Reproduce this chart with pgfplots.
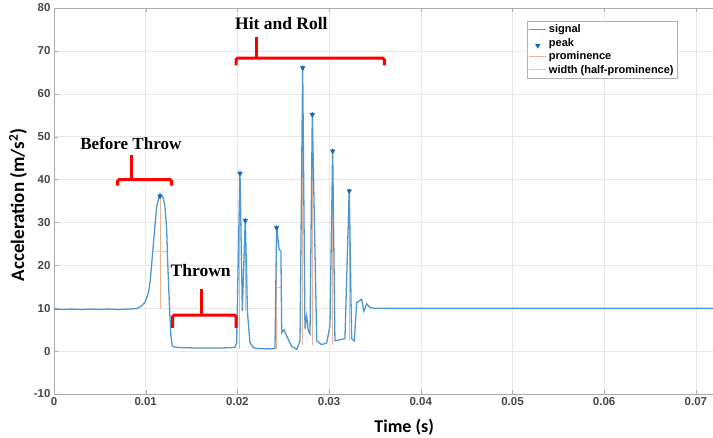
\documentclass[border=0pt]{standalone}
\usepackage{pgfplots}
\pgfplotsset{compat=1.18}
\usepackage{fontspec}
\setmainfont{Liberation Sans}
\newfontfamily\carlito{Carlito}
\newfontfamily\timesf{Liberation Serif}

\definecolor{sig}{RGB}{78,152,210}
\definecolor{pk}{RGB}{20,100,180}
\definecolor{prom}{RGB}{236,180,150}
\definecolor{wid}{RGB}{240,205,120}

\begin{document}
\begin{tikzpicture}
\begin{axis}[
    scale only axis, width=667pt, height=386pt,
    xmin=0, xmax=0.07274, ymin=-10, ymax=80,
    scaled x ticks=false,
    xtick={0,0.01,0.02,0.03,0.04,0.05,0.06,0.07},
    xticklabels={0,0.01,0.02,0.03,0.04,0.05,0.06,0.07},
    ytick={-10,0,10,20,30,40,50,60,70,80},
    grid=major, grid style={gray!18},
    axis line style={gray!65}, tick style={gray!65},
    tick align=inside, major tick length=4pt,
    /pgf/number format/assume math mode=true,
    ticklabel style={font=\bfseries\fontsize{11.5}{13}\selectfont, text=black!72},
    xlabel={\carlito\bfseries\fontsize{18}{20}\selectfont Time (s)},
    xlabel style={at={(axis description cs:0.525,-0.101)}, anchor=base},
    ylabel={\carlito\bfseries\fontsize{19}{22}\selectfont Acceleration (m/s\textsuperscript{2})},
    ylabel style={at={(axis description cs:-0.054,0.49)}, anchor=center},
    legend style={at={(axis description cs:0.709,0.966)}, anchor=north west,
        draw=gray!60, font=\bfseries\fontsize{11}{13}\selectfont,
        inner sep=1.5pt, row sep=0pt},
    legend cell align=left,
    unbounded coords=jump,
]
% prominence (drawn under the signal)
\addplot[prom, line width=1pt, forget plot] coordinates {
(0.01156,36.7)(0.01156,9.8)(0.01156,nan)
(0.02028,42.0)(0.02028,0.6)(0.02028,nan)
(0.02086,31.0)(0.02086,9.4)(0.02086,nan)
(0.02428,29.3)(0.02428,0.6)(0.02428,nan)
(0.02712,66.6)(0.02712,1.5)(0.02712,nan)
(0.02817,55.7)(0.02817,1.5)(0.02817,nan)
(0.03039,47.2)(0.03039,1.5)(0.03039,nan)
(0.0322,37.9)(0.0322,2.5)
};
% width at half prominence
\addplot[wid, line width=1pt, forget plot] coordinates {
(0.01101,23.2)(0.01229,23.2)(0.01229,nan)
(0.02010,21.3)(0.02046,21.3)(0.02046,nan)
(0.02072,20.2)(0.02100,20.2)(0.02100,nan)
(0.02418,14.9)(0.02483,14.9)(0.02483,nan)
(0.02700,34.0)(0.02724,34.0)(0.02724,nan)
(0.02805,28.6)(0.02829,28.6)(0.02829,nan)
(0.03027,24.4)(0.03051,24.4)(0.03051,nan)
(0.03209,20.2)(0.03231,20.2)
};
% signal
\addplot[sig, line width=1.3pt] coordinates {
(0,9.8)(0.001,9.7)(0.002,9.8)(0.003,9.7)(0.004,9.8)(0.005,9.7)(0.006,9.8)(0.007,9.7)(0.008,9.8)
(0.0090,9.9)(0.0094,10.3)(0.0099,11.3)(0.0103,13.6)(0.0105,16.5)(0.0108,24)(0.0110,29)(0.0112,33.8)
(0.01156,36.7)(0.0119,35.8)(0.0121,33.8)(0.01229,28.4)(0.0124,20.7)(0.01262,9)(0.01275,3.5)
(0.0129,1.2)(0.0132,0.9)(0.014,0.8)(0.016,0.7)(0.018,0.7)(0.0193,0.8)(0.01974,0.9)(0.01992,2)
(0.02028,42.0)(0.02054,9.4)(0.02086,31.0)(0.0211,9)(0.02137,2)(0.02174,0.8)(0.0222,0.6)(0.0235,0.5)
(0.0241,0.6)(0.02428,29.3)(0.02454,23.7)(0.02475,23.3)(0.02483,4.3)(0.02508,5)(0.02538,3.5)
(0.02592,1.1)(0.02647,0.4)(0.02683,2.3)(0.02712,66.6)(0.02737,5.2)(0.02756,8.2)(0.02773,4.8)
(0.02792,4)(0.02817,55.7)(0.02865,2.4)(0.02919,1.5)(0.02974,1.9)(0.0301,6)(0.03039,47.2)
(0.03064,2.4)(0.03173,2.9)(0.0322,37.9)(0.03246,2.9)(0.03275,2.4)(0.03301,11.3)(0.03355,12.1)
(0.0338,9.3)(0.0341,11)(0.03445,10.2)(0.03482,10.0)(0.036,10.0)(0.04,10)(0.05,10)(0.06,10)(0.07,10)(0.0728,10)
};
\addlegendentry{signal}
% peaks
\addplot[only marks, mark=triangle*, mark size=2.6pt, color=pk,
    mark options={rotate=180, yshift=2.5pt}] coordinates {
(0.01156,36.7)(0.02028,42.0)(0.02086,31.0)(0.02428,29.3)(0.02712,66.6)
(0.02817,55.7)(0.03039,47.2)(0.0322,37.9)
};
\addlegendentry{peak}
\addlegendimage{prom, line width=1pt}
\addlegendentry{prominence}
\addlegendimage{wid, line width=1pt}
\addlegendentry{width (half-prominence)}

% annotations
\draw[red, line width=3pt, rounded corners=1.5pt]
  (axis cs:0.00694,38.6) -- (axis cs:0.00694,40) -- (axis cs:0.01283,40) -- (axis cs:0.01283,38.6);
\draw[red, line width=3pt] (axis cs:0.00847,40) -- (axis cs:0.00847,45.8);
\node[font=\timesf\bfseries\fontsize{17}{20}\selectfont, anchor=base] at (axis cs:0.00838,47.0) {Before Throw};

\draw[red, line width=3pt, rounded corners=1.5pt]
  (axis cs:0.01294,5.4) -- (axis cs:0.01294,8.4) -- (axis cs:0.01985,8.4) -- (axis cs:0.01985,5.4);
\draw[red, line width=3pt] (axis cs:0.01611,8.4) -- (axis cs:0.01611,14.4);
\node[font=\timesf\bfseries\fontsize{17.5}{20}\selectfont, anchor=base] at (axis cs:0.0160,17.5) {Thrown};

\draw[red, line width=3pt, rounded corners=1.5pt]
  (axis cs:0.01985,66.6) -- (axis cs:0.01985,68.3) -- (axis cs:0.03602,68.3) -- (axis cs:0.03602,66.6);
\draw[red, line width=3pt] (axis cs:0.0221,68.3) -- (axis cs:0.0221,73.3);
\node[font=\timesf\bfseries\fontsize{17.5}{20}\selectfont, anchor=base] at (axis cs:0.0248,74.9) {Hit and Roll};
\end{axis}
\pgfresetboundingbox
\path[use as bounding box] ([shift={(-54pt,-44pt)}]current axis.south west)
  rectangle ([shift={(659pt,8pt)}]current axis.north west);
\end{tikzpicture}
\end{document}
